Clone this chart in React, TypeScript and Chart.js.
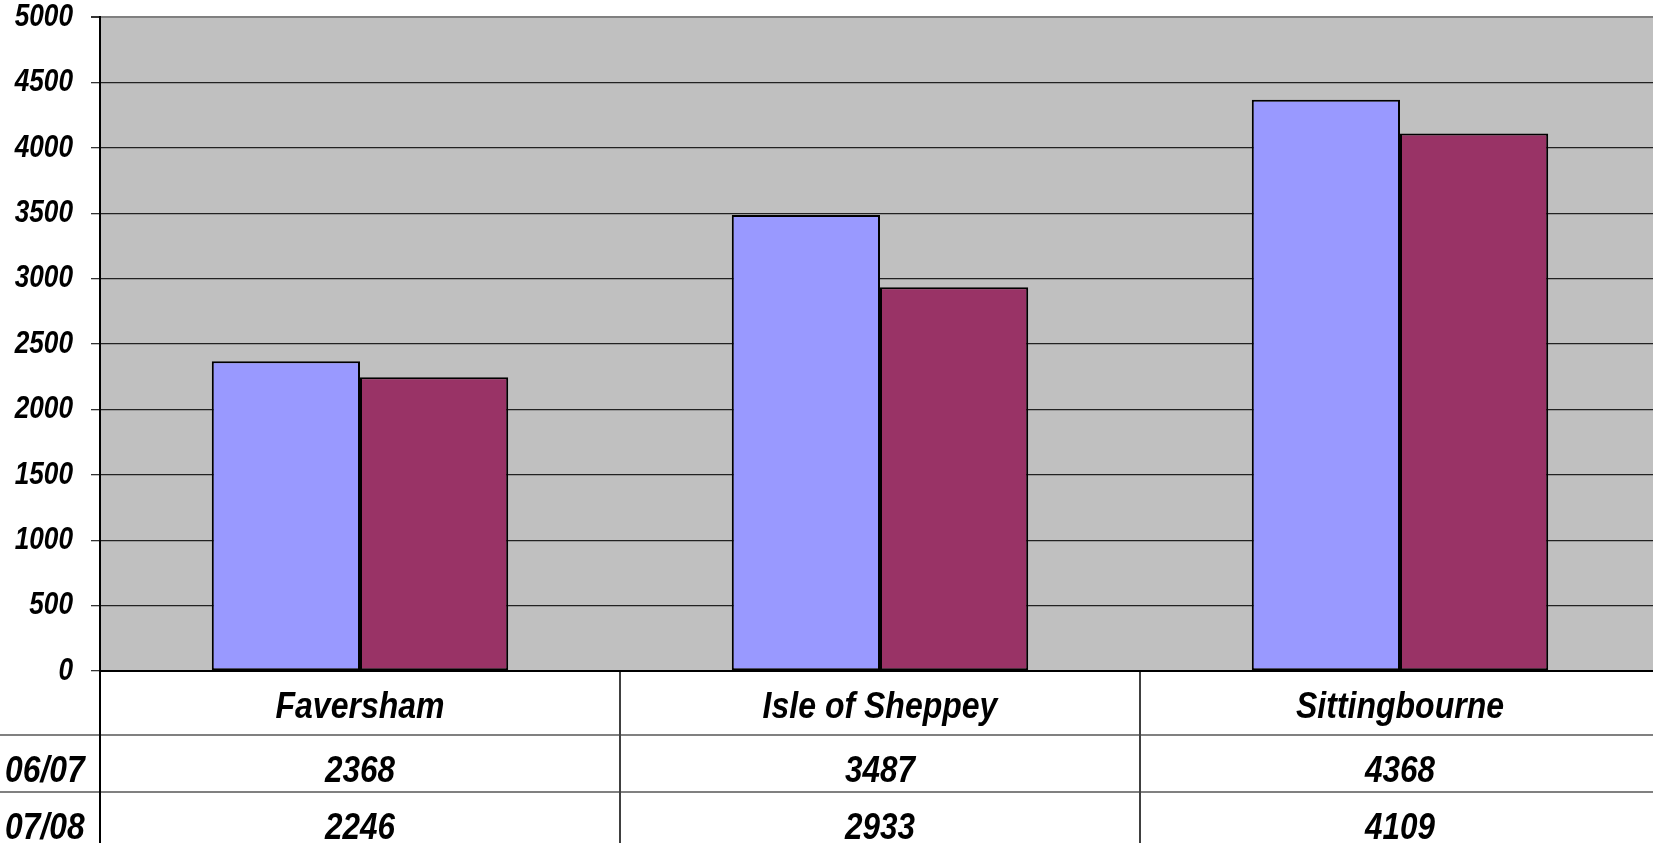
import React, { useEffect, useRef } from "react";
import { Chart, registerables } from "chart.js";

Chart.register(...registerables);

const categories = ["Faversham", "Isle of Sheppey", "Sittingbourne"];
const seriesLabels = ["06/07", "07/08"];
const values0607 = [2368, 3487, 4368];
const values0708 = [2246, 2933, 4109];
const yTicks = [0, 500, 1000, 1500, 2000, 2500, 3000, 3500, 4000, 4500, 5000];

const FONT = "'Liberation Sans', Arial, sans-serif";
const COLORS = ["#9999FF", "#993366"];

function drawText(ctx: CanvasRenderingContext2D, text: string, x: number, y: number, align: CanvasTextAlign, sx: number, font: string, baseline: CanvasTextBaseline = "alphabetic") {
  ctx.save();
  ctx.translate(x, y);
  ctx.scale(sx, 1);
  ctx.font = font;
  ctx.textAlign = align;
  ctx.textBaseline = baseline;
  ctx.fillStyle = "#000";
  ctx.fillText(text, 0, 0);
  ctx.restore();
}

const tablePlugin = {
  id: "tablePlugin",
  beforeDraw(chart: any) {
    const { ctx, chartArea } = chart;
    ctx.save();
    ctx.fillStyle = "#C0C0C0";
    ctx.fillRect(chartArea.left, chartArea.top, chartArea.right - chartArea.left, chartArea.bottom - chartArea.top);
    ctx.restore();
  },
  afterDraw(chart: any) {
    const { ctx, chartArea } = chart;
    const xs = chart.scales.x;
    const ys = chart.scales.y;
    const H = chart.height;
    const bottom = chartArea.bottom;
    const row1 = bottom + 64;
    const row2 = bottom + 121;
    ctx.save();
    ctx.strokeStyle = "#808080";
    ctx.lineWidth = 2;
    [row1, row2].forEach((y) => {
      ctx.beginPath();
      ctx.moveTo(0, y);
      ctx.lineTo(chart.width, y);
      ctx.stroke();
    });
    ctx.strokeStyle = "#404040";
    ctx.lineWidth = 2;
    for (let i = 0; i < categories.length - 1; i++) {
      const x = (xs.getPixelForValue(i) + xs.getPixelForValue(i + 1)) / 2;
      ctx.beginPath();
      ctx.moveTo(x, bottom);
      ctx.lineTo(x, H);
      ctx.stroke();
    }
    ctx.strokeStyle = "#000";
    ctx.beginPath();
    ctx.moveTo(chartArea.left, bottom);
    ctx.lineTo(chartArea.left, H);
    ctx.stroke();
    ctx.lineWidth = 2;
    ctx.beginPath();
    ctx.moveTo(chartArea.left, bottom);
    ctx.lineTo(chartArea.right, bottom);
    ctx.stroke();
    ctx.restore();

    const tickFont = `italic bold 32px ${FONT}`;
    yTicks.forEach((v) => {
      drawText(ctx, String(v), chartArea.left - 27, ys.getPixelForValue(v), "right", 0.82, tickFont, "middle");
    });

    const tableFont = `italic bold 37px ${FONT}`;
    categories.forEach((c, i) => {
      drawText(ctx, c, xs.getPixelForValue(i), bottom + 47, "center", 0.865, tableFont);
    });
    const rows = [values0607, values0708];
    const baselines = [bottom + 111, bottom + 168];
    rows.forEach((vals, r) => {
      vals.forEach((v, i) => {
        drawText(ctx, String(v), xs.getPixelForValue(i), baselines[r], "center", 0.85, tableFont);
      });
      drawText(ctx, seriesLabels[r], 5, baselines[r], "left", 0.86, tableFont);
    });
  },
};

export default function App() {
  const ref = useRef<HTMLCanvasElement>(null);
  useEffect(() => {
    if (!ref.current) return;
    const chart = new Chart(ref.current, {
      type: "bar",
      data: {
        labels: categories,
        datasets: [
          {
            label: seriesLabels[0],
            data: values0607,
            backgroundColor: COLORS[0],
            borderColor: "#000",
            borderWidth: 2,
            borderSkipped: false,
            categoryPercentage: 0.57,
            barPercentage: 1,
          },
          {
            label: seriesLabels[1],
            data: values0708,
            backgroundColor: COLORS[1],
            borderColor: "#000",
            borderWidth: 2,
            borderSkipped: false,
            categoryPercentage: 0.57,
            barPercentage: 1,
          },
        ],
      },
      options: {
        animation: false,
        responsive: false,
        maintainAspectRatio: false,
        layout: { padding: { top: 17, left: 0, right: 0, bottom: 0 } },
        plugins: { legend: { display: false }, tooltip: { enabled: false } },
        scales: {
          x: {
            type: "category",
            ticks: { display: false },
            grid: { display: false },
            border: { display: false },
            afterFit(scale: any) {
              scale.height = 172;
              scale.paddingLeft = 0;
              scale.paddingRight = 0;
            },
          },
          y: {
            min: 0,
            max: 5000,
            afterBuildTicks(scale: any) {
              scale.ticks = yTicks.map((v) => ({ value: v }));
            },
            ticks: { display: false },
            grid: {
              color: (c: any) => (c.tick && c.tick.value === 5000 ? "#808080" : "#222222"),
              lineWidth: (c: any) => (c.tick && c.tick.value === 5000 ? 2 : 1.3),
              tickLength: 9,
              tickColor: "#333333",
              drawTicks: true,
            },
            border: { display: true, color: "#000", width: 2 },
            afterFit(scale: any) {
              scale.width = 100;
              scale.paddingTop = 0;
              scale.paddingBottom = 0;
            },
          },
        },
      },
      plugins: [tablePlugin],
    });
    return () => chart.destroy();
  }, []);
  return (
    <div style={{ position: "fixed", left: 0, top: 0, width: 1653, height: 843, overflow: "hidden", background: "#fff" }}>
      <canvas ref={ref} width={1660} height={843} style={{ width: 1660, height: 843, display: "block" }} />
    </div>
  );
}
